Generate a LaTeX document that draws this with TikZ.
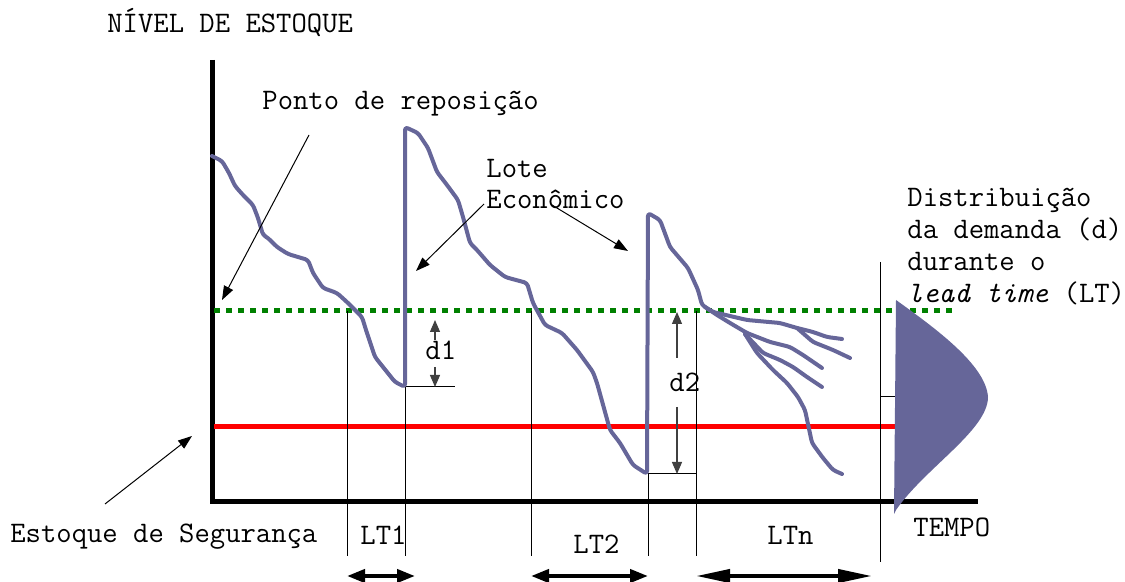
\documentclass[tikz,border=0pt]{standalone}
\usepackage{fontspec}
\usetikzlibrary{arrows.meta}

\definecolor{curva}{RGB}{102,102,153}
\definecolor{verde}{RGB}{0,128,0}

\tikzset{
  rotulo/.style={anchor=base west, inner sep=0pt, font=\ttfamily\fontsize{14.9}{18}\selectfont},
  seta/.style={-{Triangle[length=7pt,width=5pt]}, line width=0.5pt},
  cota/.style={-{Triangle[length=6pt,width=5pt]}, line width=0.6pt, black!75},
  demanda/.style={curva, line width=2pt, line join=round, line cap=round, rounded corners=1.5pt},
  guia/.style={line width=0.5pt},
  prazo/.style={{Triangle[length=9pt,width=6.5pt]}-{Triangle[length=9pt,width=6.5pt]}, line width=2pt},
}

\begin{document}
\begin{tikzpicture}[x=0.5pt,y=-0.5pt]
    \useasboundingbox (0,0) rectangle (1125,582);

    % eixos
    \coordinate (O) at (212,502);
    \coordinate (Y) at (212,60);
    \coordinate (X) at (978,502);
    \draw[line width=2.5pt] (Y) -- (O) -- (X);

    % ponto de reposicao e estoque de seguranca
    \draw[verde, line width=2.5pt, dash pattern=on 3pt off 3pt] (214,311) -- (955,311);
    \draw[red, line width=2.5pt] (214,427) -- (897,427);

    % linhas de referencia dos lead times
    \draw[guia] (347,311) -- (347,556);
    \draw[guia] (405,387) -- (405,556);
    \draw[guia] (531,311) -- (531,556);
    \draw[guia] (648,474) -- (648,556);
    \draw[guia] (696,311) -- (696,556);
    \draw[guia] (880,262) -- (880,562);
    \draw[guia] (880,397) -- (896,397);
    \draw[guia] (405,387) -- (455,387);
    \draw[guia] (648,474) -- (696,474);

    % distribuicao da demanda
    \fill[curva] (896,300) .. controls (935,328) and (986,365) .. (988,397)
        .. controls (988,430) and (925,468) .. (896,510) -- (894,514) -- cycle;

    % consumo do estoque
    \draw[demanda] (212,156) -- (222,161) -- (229,173) -- (235,186) -- (243,195) -- (253,205)
        -- (258,218) -- (263,235) -- (268,238) -- (277,247) -- (288,254) -- (308,260)
        -- (313,273) -- (323,288) -- (337,293) -- (348,303) -- (362,317) -- (366,330)
        -- (375,357) -- (383,367) -- (395,382) -- (405,387) -- (405,127) -- (418,133)
        -- (428,148) -- (437,172) -- (447,185) -- (458,200) -- (463,217) -- (470,243)
        -- (477,250) -- (490,265) -- (505,277) -- (527,283) -- (533,303) -- (545,325)
        -- (562,333) -- (577,350) -- (593,372) -- (597,383) -- (610,430) -- (620,443)
        -- (633,465) -- (647,474) -- (648,213) -- (660,220) -- (670,247) -- (688,268)
        -- (698,290) -- (702,305) -- (713,312) -- (747,320) -- (780,323) -- (797,328)
        -- (813,332) -- (827,337) -- (842,339);
    \draw[demanda] (797,328) -- (813,342) -- (833,350) -- (850,358);
    \draw[demanda] (705,307) -- (717,315) -- (730,323) -- (747,333) -- (770,342)
        -- (790,347) -- (803,355) -- (822,368);
    \draw[demanda] (745,334) -- (763,353) -- (780,360) -- (793,367) -- (807,377) -- (822,387);
    \draw[demanda] (745,334) -- (757,353) -- (773,370) -- (787,383) -- (798,397)
        -- (805,410) -- (812,443) -- (823,458) -- (833,470) -- (842,474);

    % textos
    \node[rotulo] (nivel) at (107,33) {NÍVEL DE ESTOQUE};
    \node[rotulo] (ponto) at (262,110) {Ponto de reposição};
    \node[rotulo] (lote) at (486,178) {Lote};
    \node[rotulo] (econ) at (486,209) {Econômico};
    \node[rotulo] (dist1) at (907,207) {Distribuição};
    \node[rotulo] (dist2) at (907,239) {da demanda (d)};
    \node[rotulo] (dist3) at (907,271) {durante o};
    \node[rotulo] (dist4) at (907,303) {\textit{lead time} (LT)};
    \node[rotulo] (seg) at (10,543) {Estoque de Segurança};
    \node[rotulo] (tempo) at (913,537) {TEMPO};
    \node[rotulo] (lt1) at (360,545) {LT1};
    \node[rotulo] (lt2) at (573,553) {LT2};
    \node[rotulo] (ltn) at (767,545) {LTn};
    \node[rotulo] (d1) at (425,360) {d1};
    \node[rotulo] (d2) at (669,392) {d2};

    % setas de indicacao
    \coordinate (pr-a) at (309,135);
    \coordinate (pr-b) at (222,300);
    \coordinate (le-a) at (484,204);
    \coordinate (le-b) at (416,271);
    \coordinate (le-c) at (552,205);
    \coordinate (le-d) at (628,251);
    \coordinate (es-a) at (105,504);
    \coordinate (es-b) at (192,436);
    \draw[seta] (pr-a) -- (pr-b);
    \draw[seta] (le-a) -- (le-b);
    \draw[seta] (le-c) -- (le-d);
    \draw[seta] (es-a) -- (es-b);

    % cotas d1 e d2
    \draw[cota] (435,340) -- (435,320);
    \draw[cota] (435,367) -- (435,387);
    \draw[cota] (677,358) -- (677,312);
    \draw[cota] (677,407) -- (677,474);

    % duracao dos lead times
    \coordinate (a1) at (347,576);
    \coordinate (b1) at (415,576);
    \coordinate (a2) at (531,576);
    \coordinate (b2) at (648,576);
    \coordinate (an) at (696,576);
    \coordinate (bn) at (872,576);
    \draw[prazo] (a1) -- (b1);
    \draw[prazo] (a2) -- (b2);
    \draw[prazo, {Triangle[length=17pt,width=6.5pt]}-{Triangle[length=17pt,width=6.5pt]}] (an) -- (bn);
\end{tikzpicture}
\end{document}
